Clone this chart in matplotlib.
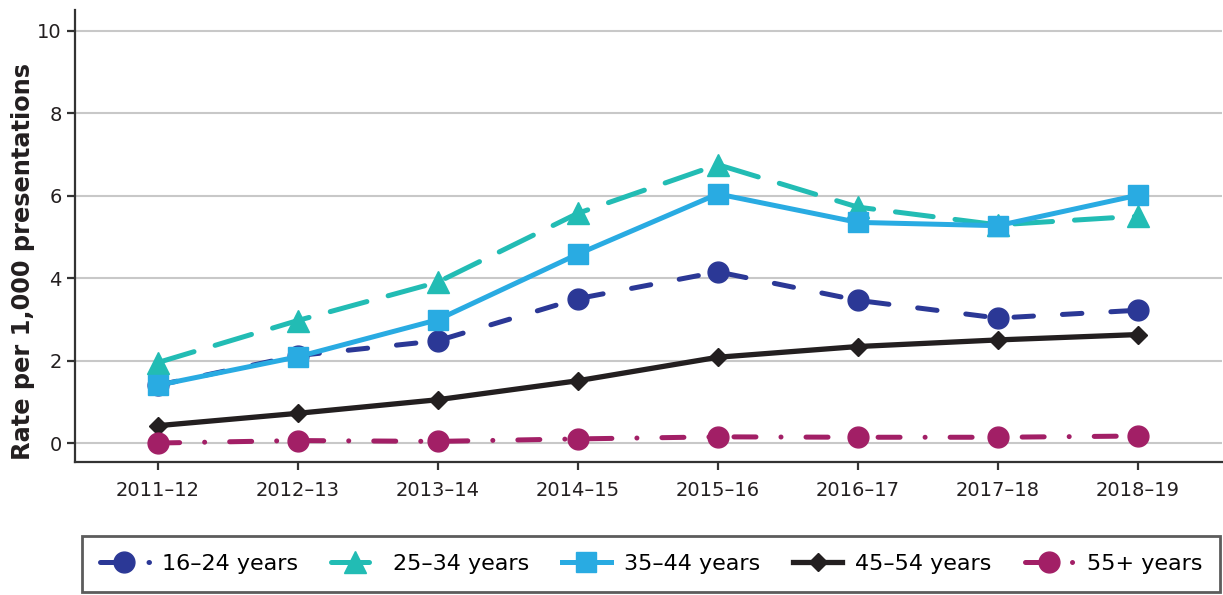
import matplotlib
matplotlib.use("Agg")
import matplotlib.pyplot as plt

years = ["2011–12", "2012–13", "2013–14", "2014–15", "2015–16", "2016–17", "2017–18", "2018–19"]
labels = ["16–24 years", "25–34 years", "35–44 years", "45–54 years", "55+ years"]
age_16_24 = [1.40, 2.12, 2.48, 3.50, 4.15, 3.46, 3.03, 3.22]
age_25_34 = [1.95, 2.97, 3.90, 5.57, 6.75, 5.72, 5.29, 5.50]
age_35_44 = [1.40, 2.09, 2.99, 4.58, 6.04, 5.35, 5.27, 6.01]
age_45_54 = [0.42, 0.72, 1.05, 1.51, 2.08, 2.34, 2.50, 2.63]
age_55_plus = [0.00, 0.06, 0.04, 0.10, 0.15, 0.14, 0.14, 0.17]

colors = ["#2B3896", "#22BCB4", "#29ABE2", "#231F20", "#A21F66"]
series = [age_16_24, age_25_34, age_35_44, age_45_54, age_55_plus]
markers = ["o", "^", "s", "D", "o"]
msizes = [15, 16, 14, 9, 15]
styles = [(0, (3.9, 5.8)), (0, (7.6, 4.4)), "-", "-", (0, (4.4, 5, 0.01, 5))]
lws = [3.6, 3.6, 3.6, 3.8, 3.6]

fig = plt.figure(figsize=(12.23, 5.95), dpi=100)
ax = fig.add_axes([75/1223, 1-462/595, (1222-75)/1223, (462-10)/595])

x = list(range(len(years)))
handles = []
for s, c, m, ms, ls, lw, lab in zip(series, colors, markers, msizes, styles, lws, labels):
    h, = ax.plot(x, s, color=c, marker=m, markersize=ms, linestyle=ls, linewidth=lw,
                 label=lab, dash_capstyle="round", zorder=3)
    handles.append(h)

ax.set_xlim(-0.59, 7.6)
ax.set_ylim(-0.46, 10.5)
ax.set_yticks([0, 2, 4, 6, 8, 10])
ax.set_xticks(x)
ax.set_xticklabels(years)
ax.yaxis.grid(True, color="#C8C8C8", linewidth=1.5, zorder=0)
ax.set_axisbelow(True)
for sp in ["top", "right"]:
    ax.spines[sp].set_visible(False)
for sp in ["left", "bottom"]:
    ax.spines[sp].set_color("#333333")
    ax.spines[sp].set_linewidth(1.6)
ax.tick_params(axis="both", labelsize=14, colors="#333333", length=6, width=1.6, labelcolor="#231F20")
ax.tick_params(axis="x", pad=8)
ax.set_ylabel("Rate per 1,000 presentations", fontsize=17.3, fontweight="bold", color="#231F20")
ax.yaxis.set_label_coords(-(75 - 35) / (1222 - 75), (462 - 262) / (462 - 10))

leg = fig.legend(handles=handles, labels=labels, loc="lower left", ncol=5, mode="expand",
                 bbox_to_anchor=(82/1223, 1-592/595, (1220-82)/1223, (592-528)/595),
                 fontsize=16, frameon=True, fancybox=False, edgecolor="#333333",
                 handlelength=2.2, borderpad=0.8, handletextpad=0.6, borderaxespad=0)
leg.get_frame().set_linewidth(2.0)

fig.savefig("out.png", dpi=100)
